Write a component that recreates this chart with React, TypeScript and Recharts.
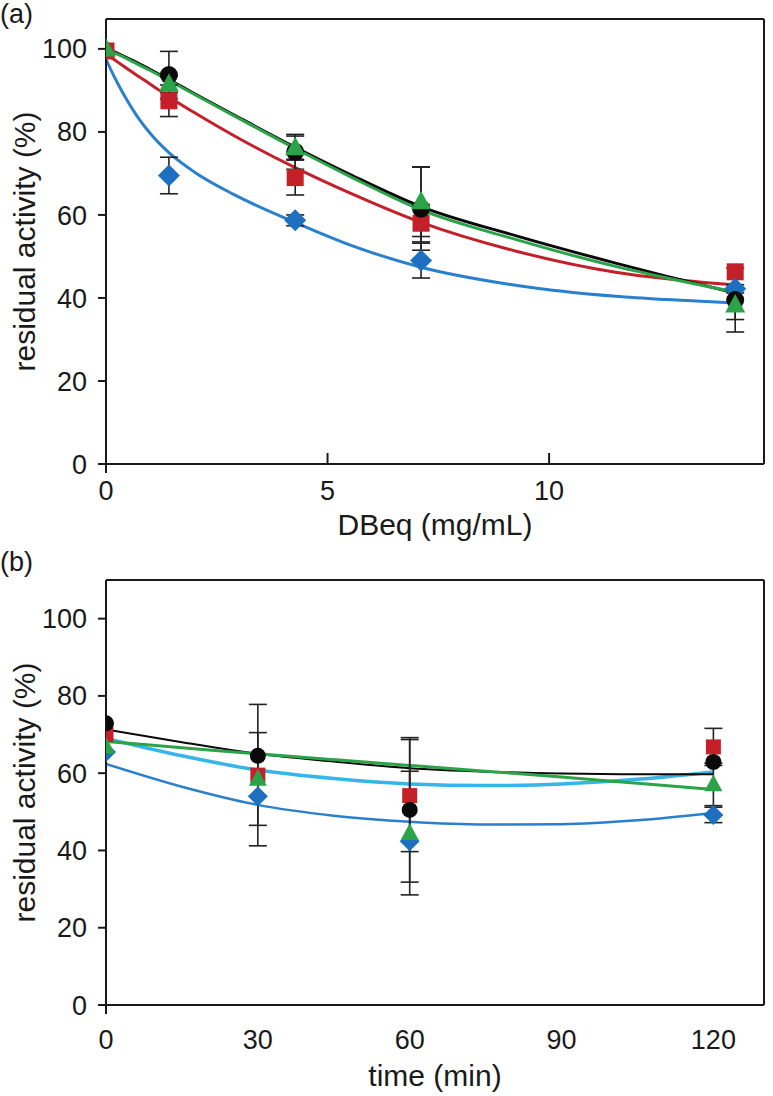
import React from "react"
import { ComposedChart, Line, Scatter, XAxis, YAxis, ErrorBar, ReferenceLine, Label } from "recharts"

const font = "'Liberation Sans', Arial, sans-serif"
const ink = "#1a1a1a"
const tickFont = 27
const titleFont = 30

const blue = "#1d6fc0"
const blueLine = "#2a80cc"
const red = "#c42029"
const green = "#2ba349"
const cyan = "#35b5ea"
const black = "#0a0a0a"

// (a) residual activity vs DBeq
const doseA = [0, 1.42, 4.27, 7.11, 14.2]
const blackA = [null, 93.7, 75.2, 61.5, 39.5]
const blackAErr = [0, 5.7, 4.2, 10, 7.7]
const redA = [99.5, 87.5, 69, 58, 46.3]
const redAErr = [0, 3.8, 4.2, 4.5, 0]
const blueA = [null, 69.5, 58.7, 49, 42.2]
const blueAErr = [0, 4.4, 1.3, 4.2, 1]
const greenA = [100, 91.5, 76.2, 63.2, 38.3]
const greenAErr = [0, 2, 2.8, 8.4, 3.5]

// (a) fitted curves
const fitXA = [0, 0.2, 0.4, 0.7, 1.0, 1.42, 2, 2.87, 4.27, 5.5, 7.11, 9.28, 11.5, 12.66, 14.2]
const fitBlackA = [100, 99.2, 98.2, 96.7, 95, 92.6, 89.2, 84.2, 76.3, 69.8, 62, 54.9, 48.4, 45.2, 41.2]
const fitRedA = [98.8, 97.3, 95.8, 93.6, 91.5, 88.4, 84.6, 79.2, 71.4, 65.3, 58.2, 51.2, 46.2, 44.6, 43.1]
const fitBlueA = [97.5, 93, 89, 83.8, 79.6, 75, 70.3, 65, 58.2, 52.8, 47.4, 43, 40.4, 39.6, 38.8]
const fitGreenA = [100, 99, 98, 96.4, 94.8, 92.4, 89, 84, 76, 69.3, 61.2, 54, 47.6, 44.8, 41.4]

// (b) residual activity vs time
const timeB = [0, 30, 60, 120]
const blackB = [72.9, 64.5, 50.5, 62.9]
const blackBErr = [0, 0, 18.7, 0]
const redB = [70, 59.5, 54.2, 66.8]
const redBErr = [0, 18.3, 14.5, 4.8]
const greenB = [66.8, 58.5, 44.5, 57.1]
const greenBErr = [0, 12, 16, 5.5]
const blueB = [65.5, 54, 42.4, 49.2]
const blueBErr = [0, 0, 0, 2]

const fitXB = [0, 15, 30, 45, 60, 75, 90, 105, 120]
const fitBlackB = [71.3, 68, 65, 63, 61.3, 60.4, 59.9, 59.7, 59.7]
const fitGreenB = [68.2, 66.6, 65, 63.5, 62, 60.5, 59, 57.4, 55.8]
const fitCyanB = [69, 64.5, 60.8, 58.6, 57.2, 56.8, 57.2, 58.4, 60.3]
const fitBlueB = [62.4, 56.5, 51.8, 49, 47.4, 46.7, 46.8, 47.8, 49.7]

const yTicks = [0, 20, 40, 60, 80, 100]

const pts = (xs: number[], ys: (number | null)[], errs?: number[]) =>
  xs
    .map((x, i) => ({ x, y: ys[i], err: errs ? errs[i] : 0 }))
    .filter((p) => p.y !== null)

const Circle = (r: number, fill: string) => (p: any) => <circle cx={p.cx} cy={p.cy} r={r} fill={fill} />
const Square = (s: number, fill: string) => (p: any) => (
  <rect x={p.cx - s / 2} y={p.cy - s / 2} width={s} height={s} fill={fill} />
)
const Diamond = (h: number, fill: string) => (p: any) => (
  <polygon
    points={`${p.cx},${p.cy - h} ${p.cx + h},${p.cy} ${p.cx},${p.cy + h} ${p.cx - h},${p.cy}`}
    fill={fill}
  />
)
const Triangle = (s: number, fill: string) => (p: any) => (
  <polygon
    points={`${p.cx},${p.cy - s * 0.55} ${p.cx + s / 2},${p.cy + s * 0.38} ${p.cx - s / 2},${p.cy + s * 0.38}`}
    fill={fill}
  />
)

const makeXTick = (labelDy: number, inward: boolean) => (props: any) => {
  const { x, y, payload } = props
  return (
    <g>
      {payload.value === 0 ? (
        <line x1={x} y1={y} x2={x} y2={y + 9} stroke={ink} strokeWidth={2} />
      ) : inward ? (
        <line x1={x} y1={y} x2={x} y2={y - 11} stroke={ink} strokeWidth={2} />
      ) : null}
      <text x={x} y={y + labelDy} textAnchor="middle" dominantBaseline="central" fontSize={tickFont} fontFamily={font} fill={ink}>
        {payload.value}
      </text>
    </g>
  )
}

const yTitle = (props: any) => {
  const vb = props.viewBox
  const cy = vb.y + vb.height / 2
  return (
    <text
      transform={`translate(24, ${cy}) rotate(-90)`}
      textAnchor="middle"
      dominantBaseline="central"
      fontSize={titleFont}
      fontFamily={font}
      fill={ink}
    >
      residual activity (%)
    </text>
  )
}

const xTitle = (text: string, dy: number) => (p: any) => (
  <text
    x={p.viewBox.x + p.viewBox.width / 2}
    y={p.viewBox.y + dy}
    textAnchor="middle"
    dominantBaseline="central"
    fontSize={titleFont}
    fontFamily={font}
    fill={ink}
  >
    {text}
  </text>
)

const errBar = (
  <ErrorBar dataKey="err" direction="y" width={9} stroke="#222" strokeWidth={1.6} />
)

function PanelA() {
  const xMax = 14.85
  const yMax = 107.2
  return (
    <ComposedChart width={773} height={545} margin={{ top: 19, right: 9, left: 0, bottom: 0 }}>
      <XAxis
        type="number"
        dataKey="x"
        domain={[0, xMax]}
        ticks={[0, 5, 10]}
        allowDataOverflow
        height={81}
        tickSize={0}
        tickMargin={0}
        tickLine={false}
        axisLine={{ stroke: ink, strokeWidth: 2 }}
        tick={makeXTick(27, true)}
      >
        <Label content={xTitle("DBeq (mg/mL)", 60)} />
      </XAxis>
      <YAxis
        type="number"
        dataKey="y"
        domain={[0, yMax]}
        ticks={yTicks}
        allowDataOverflow
        width={106}
        tickSize={8}
        tickMargin={11}
        tick={{ fontSize: tickFont, fill: ink, fontFamily: font }}
        tickLine={{ stroke: ink, strokeWidth: 2 }}
        axisLine={{ stroke: ink, strokeWidth: 2 }}
      >
        <Label content={yTitle} />
      </YAxis>
      <ReferenceLine y={yMax} stroke={ink} strokeWidth={2} />
      <ReferenceLine x={xMax} stroke={ink} strokeWidth={2} />

      <Line data={pts(fitXA, fitBlueA)} dataKey="y" type="monotone" dot={false} stroke={blueLine} strokeWidth={3} isAnimationActive={false} />
      <Line data={pts(fitXA, fitRedA)} dataKey="y" type="monotone" dot={false} stroke={red} strokeWidth={3} isAnimationActive={false} />
      <Line data={pts(fitXA, fitBlackA)} dataKey="y" type="monotone" dot={false} stroke={black} strokeWidth={3} isAnimationActive={false} />
      <Line data={pts(fitXA, fitGreenA)} dataKey="y" type="monotone" dot={false} stroke={green} strokeWidth={3} isAnimationActive={false} />

      <Scatter data={pts(doseA, redA, redAErr)} shape={Square(17, red)} isAnimationActive={false}>{errBar}</Scatter>
      <Scatter data={pts(doseA, blueA, blueAErr)} shape={Diamond(11, blue)} isAnimationActive={false}>{errBar}</Scatter>
      <Scatter data={pts(doseA, blackA, blackAErr)} shape={Circle(9, black)} isAnimationActive={false}>{errBar}</Scatter>
      <Scatter data={pts(doseA, greenA, greenAErr)} shape={Triangle(20, green)} isAnimationActive={false}>{errBar}</Scatter>
    </ComposedChart>
  )
}

function PanelB() {
  const xMax = 130
  const yMax = 110
  return (
    <ComposedChart width={773} height={551} margin={{ top: 35, right: 9, left: 0, bottom: 0 }}>
      <XAxis
        type="number"
        dataKey="x"
        domain={[0, xMax]}
        ticks={[0, 30, 60, 90, 120]}
        allowDataOverflow
        height={91}
        tickSize={0}
        tickMargin={0}
        tickLine={false}
        axisLine={{ stroke: ink, strokeWidth: 2 }}
        tick={makeXTick(35, false)}
      >
        <Label content={xTitle("time (min)", 70)} />
      </XAxis>
      <YAxis
        type="number"
        dataKey="y"
        domain={[0, yMax]}
        ticks={yTicks}
        allowDataOverflow
        width={106}
        tickSize={8}
        tickMargin={11}
        tick={{ fontSize: tickFont, fill: ink, fontFamily: font }}
        tickLine={{ stroke: ink, strokeWidth: 2 }}
        axisLine={{ stroke: ink, strokeWidth: 2 }}
      >
        <Label content={yTitle} />
      </YAxis>
      <ReferenceLine y={yMax} stroke={ink} strokeWidth={2} />
      <ReferenceLine x={xMax} stroke={ink} strokeWidth={2} />

      <Line data={pts(fitXB, fitBlueB)} dataKey="y" type="monotone" dot={false} stroke={blueLine} strokeWidth={2.5} isAnimationActive={false} />
      <Line data={pts(fitXB, fitCyanB)} dataKey="y" type="monotone" dot={false} stroke={cyan} strokeWidth={3.5} isAnimationActive={false} />
      <Line data={pts(fitXB, fitBlackB)} dataKey="y" type="monotone" dot={false} stroke={black} strokeWidth={2} isAnimationActive={false} />
      <Line data={pts(fitXB, fitGreenB)} dataKey="y" type="monotone" dot={false} stroke={green} strokeWidth={3} isAnimationActive={false} />

      <Scatter data={pts(timeB, blueB, blueBErr)} shape={Diamond(10, blue)} isAnimationActive={false}>{errBar}</Scatter>
      <Scatter data={pts(timeB, redB, redBErr)} shape={Square(15, red)} isAnimationActive={false}>{errBar}</Scatter>
      <Scatter data={pts(timeB, greenB, greenBErr)} shape={Triangle(18, green)} isAnimationActive={false}>{errBar}</Scatter>
      <Scatter data={pts(timeB, blackB, blackBErr)} shape={Circle(8, black)} isAnimationActive={false}>{errBar}</Scatter>
    </ComposedChart>
  )
}

export default function App() {
  return (
    <div style={{ position: "absolute", left: 0, top: 0, width: 773, height: 1096, background: "#fff", fontFamily: font }}>
      <div style={{ position: "absolute", left: 0, top: 0 }}>
        <PanelA />
      </div>
      <div style={{ position: "absolute", left: 0, top: 545 }}>
        <PanelB />
      </div>
      <div style={{ position: "absolute", left: 0, top: -1, fontSize: 27, color: ink, lineHeight: "30px" }}>(a)</div>
      <div style={{ position: "absolute", left: 0, top: 547, fontSize: 27, color: ink, lineHeight: "30px" }}>(b)</div>
    </div>
  )
}
